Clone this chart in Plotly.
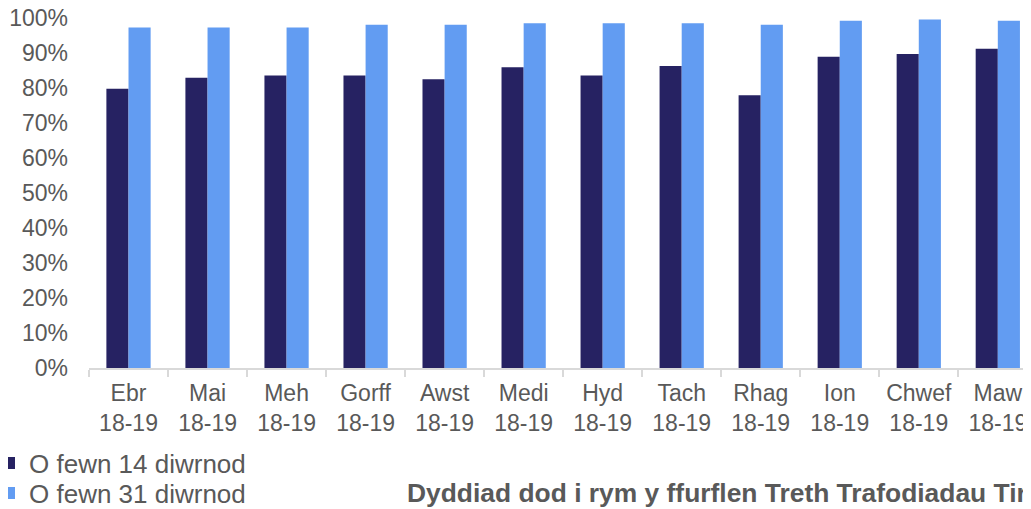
import plotly.graph_objects as go

months = ["Ebr", "Mai", "Meh", "Gorff", "Awst", "Medi", "Hyd", "Tach", "Rhag", "Ion", "Chwef", "Maw"]
year_label = "18-19"
categories = [f"{m}<br>{year_label}" for m in months]

within_14 = [79.8, 82.9, 83.6, 83.6, 82.5, 85.9, 83.6, 86.3, 77.9, 88.9, 89.7, 91.2]
within_31 = [97.3, 97.3, 97.3, 98.1, 98.1, 98.5, 98.5, 98.5, 98.1, 99.2, 99.6, 99.2]

y_ticks = list(range(0, 101, 10))
y_tick_text = [f"{v}%" for v in y_ticks]

series_names = ["O fewn 14 diwrnod", "O fewn 31 diwrnod"]
x_title = "Dyddiad dod i rym y ffurflen Treth Trafodiadau Tir"

dark = "#262262"
light = "#629CF2"
grey = "#595959"
font = "Liberation Sans, Arial, sans-serif"

# page body has an 8px margin, so the figure is drawn 8px smaller
W, H = 1023, 501
L, T, B = 81, 10, 141
plot_h = H - T - B
plot_w = W - L
y0 = T + plot_h  # pixel row of the x axis


def py(pix):
    return (y0 - pix) / plot_h


def px(pix):
    return (pix - L) / plot_w


fig = go.Figure()
fig.add_trace(go.Bar(x=categories, y=within_14, name=series_names[0], legend="legend",
                     marker=dict(color=dark, line=dict(width=0))))
fig.add_trace(go.Bar(x=categories, y=within_31, name=series_names[1], legend="legend2",
                     marker=dict(color=light, line=dict(width=0))))

legend_common = dict(
    xref="paper", yref="paper", xanchor="left", yanchor="middle",
    orientation="v", font=dict(size=26, color=grey, family=font),
    itemwidth=30, bgcolor="rgba(0,0,0,0)",
)

fig.update_layout(
    width=W, height=H,
    margin=dict(l=L, r=0, t=T, b=B, autoexpand=False),
    paper_bgcolor="white", plot_bgcolor="white",
    barmode="group", bargap=0.44, bargroupgap=0,
    font=dict(family=font, color=grey, size=22),
    showlegend=True,
    legend=dict(x=px(-19), y=py(455), **legend_common),
    legend2=dict(x=px(-19), y=py(485), **legend_common),
    xaxis=dict(
        range=[-0.5, 11.42],
        showline=True, linecolor="#d9d9d9", linewidth=1.5,
        ticks="outside", tickson="boundaries", ticklen=7, tickcolor="#d9d9d9", tickwidth=1.5,
        tickfont=dict(size=23, color=grey), tickangle=0, automargin=False,
        ticklabelstandoff=4, ticklabeloverflow="allow",
        showgrid=False, zeroline=False, fixedrange=True,
    ),
    yaxis=dict(
        range=[0, 100], tickvals=y_ticks, ticktext=y_tick_text,
        showline=False, showgrid=False, zeroline=False,
        tickfont=dict(size=23, color=grey), automargin=False,
        ticks="", ticklabelstandoff=20, ticklabeloverflow="allow",
    ),
    annotations=[dict(
        text=f"<b>{x_title}</b>", xref="paper", yref="paper",
        x=px(397), y=py(485), xanchor="left", yanchor="middle",
        showarrow=False, font=dict(size=26.4, color=grey, family=font),
    )],
)

fig.write_html("out.html")
